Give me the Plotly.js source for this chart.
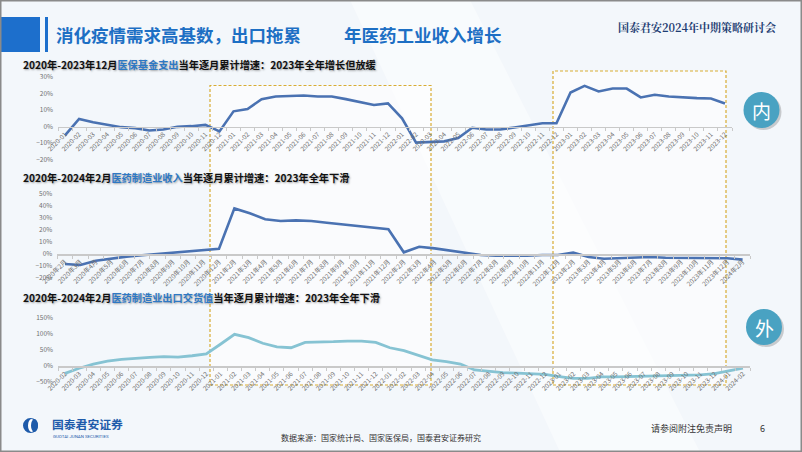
<!DOCTYPE html>
<html><head><meta charset="utf-8">
<script src="https://cdn.plot.ly/plotly-3.0.1.min.js"></script>
<style>html,body{margin:0;padding:0;background:#fff;overflow:hidden}#c{width:802px;height:452px}</style>
</head><body><div id="c"></div><script>
// ---- Chart 1: 医保基金支出 当年逐月累计增速 (%)
const months1 = ["2020-01","2020-02","2020-03","2020-04","2020-05","2020-06","2020-07","2020-08","2020-09","2020-10","2020-11","2020-12",
"2021-01","2021-02","2021-03","2021-04","2021-05","2021-06","2021-07","2021-08","2021-09","2021-10","2021-11","2021-12",
"2022-01","2022-02","2022-03","2022-04","2022-05","2022-06","2022-07","2022-08","2022-09","2022-10","2022-11","2022-12",
"2023-01","2023-02","2023-03","2023-04","2023-05","2023-06","2023-07","2023-08","2023-09","2023-10","2023-11","2023-12"];
const insuranceSpend = [-5.4,4.6,2.6,1.2,-0.4,-1.0,-2.4,-1.8,-0.2,0.2,1.0,-3.0,
9.2,10.6,16.6,18.2,18.6,18.8,18.2,18.2,16.6,14.6,13.0,14.0,
5.0,-9.8,-9.4,-9.0,-7.0,-0.8,-1.8,-1.8,-0.6,0.6,2.0,2.0,
20.6,24.6,21.2,23.0,23.0,17.6,19.2,18.2,17.6,17.2,17.0,14.0];

// ---- Chart 2: 医药制造业收入 当年逐月累计增速 (%)
const months2 = ["2020年2月","2020年3月","2020年4月","2020年5月","2020年6月","2020年7月","2020年8月","2020年9月","2020年10月","2020年11月","2020年12月",
"2021年2月","2021年3月","2021年4月","2021年5月","2021年6月","2021年7月","2021年8月","2021年9月","2021年10月","2021年11月","2021年12月",
"2022年2月","2022年3月","2022年4月","2022年5月","2022年6月","2022年7月","2022年8月","2022年9月","2022年10月","2022年11月","2022年12月",
"2023年2月","2023年3月","2023年4月","2023年5月","2023年6月","2023年7月","2023年8月","2023年9月","2023年10月","2023年11月","2023年12月",
"2024年2月"];
const mfgRevenue = [-8.3,-9.2,-5.6,-3.6,-2.2,-1.1,0.0,1.4,2.5,3.6,4.4,
38.0,34.0,29.0,27.5,28.0,27.5,26.0,24.7,23.3,22.0,20.6,
1.4,6.0,4.7,2.8,0.6,-0.8,-1.4,-1.7,-1.4,-0.8,-0.8,
1.1,-2.5,-3.9,-3.6,-2.8,-2.5,-3.1,-3.3,-3.6,-3.3,-3.6,
-4.7];

// ---- Chart 3: 医药制造业出口交货值 当年逐月累计增速 (%)
const months3 = ["2020-02","2020-03","2020-04","2020-05","2020-06","2020-07","2020-08","2020-09","2020-10","2020-11","2020-12",
"2021-01","2021-02","2021-03","2021-04","2021-05","2021-06","2021-07","2021-08","2021-09","2021-10","2021-11","2021-12",
"2022-01","2022-02","2022-03","2022-04","2022-05","2022-06","2022-07","2022-08","2022-09","2022-10","2022-11","2022-12",
"2023-01","2023-02","2023-03","2023-04","2023-05","2023-06","2023-07","2023-08","2023-09","2023-10","2023-11","2023-12",
"2024-01","2024-02"];
const exportValue = [-23,-7,6,15,21,25,27,29,28,32,37.5,
68,99,88.5,71,60,57,74,74,76,78,78,74,
57,48,33,19,13.5,6,-12.5,-17.7,-21,-22,-23,-26,
-33,-38.5,-38.5,-34,-34,-33,-32,-31,-30,-29,-28,-24,
-15.6,-7];

const W=802,H=452;
const px=x=>x/W, py=y=>1-y/H;
const CJK='"Noto Sans CJK SC","Noto Sans",sans-serif';
const tickFont={family:CJK,size:6.5,color:'#707070'};

function xax(n,x0,x1,zeroY){
  return {type:'category',domain:[px(x0),px(x1)],anchor:'free',position:py(zeroY),
    range:[-0.5,n-0.5],showline:true,linecolor:'#C9C9C9',linewidth:1.5,
    ticks:'outside',ticklen:3,tickcolor:'#C9C9C9',tickwidth:1,tickson:'boundaries',
    tickmode:'linear',tick0:0,dtick:1,tickangle:-45,tickfont:tickFont,
    showgrid:false,zeroline:false,fixedrange:true,automargin:false};
}
function yax(xa,r,dt,yTop,yBot){
  return {anchor:xa,domain:[py(yBot),py(yTop)],range:r,dtick:dt,tick0:0,ticksuffix:'%',
    showgrid:false,zeroline:false,showline:false,ticks:'',tickfont:tickFont,
    fixedrange:true,automargin:false,ticklabelstandoff:4};
}

const traces=[
 {x:months1,y:insuranceSpend,type:'scatter',mode:'lines',xaxis:'x',yaxis:'y',
  line:{color:'#4A72B2',width:2.6},hoverinfo:'skip'},
 {x:months2,y:mfgRevenue,type:'scatter',mode:'lines',xaxis:'x2',yaxis:'y2',
  line:{color:'#4A72B2',width:2.6},hoverinfo:'skip'},
 {x:months3,y:exportValue,type:'scatter',mode:'lines',xaxis:'x3',yaxis:'y3',
  line:{color:'#86C3D3',width:2.8},hoverinfo:'skip'}
];

const gold='rgba(214,168,40,0.95)';
const shapes=[
 // header blocks
 {type:'rect',xref:'paper',yref:'paper',x0:px(0),x1:px(40),y0:py(52),y1:py(17),fillcolor:'#1D6FCC',line:{width:0},layer:'below'},
 {type:'rect',xref:'paper',yref:'paper',x0:px(45),x1:px(48),y0:py(52),y1:py(17),fillcolor:'#1D6FCC',line:{width:0},layer:'below'},
 // faint light bands
 {type:'path',xref:'paper',yref:'paper',path:`M ${px(350)} ${py(0)} L ${px(470)} ${py(0)} L ${px(700)} ${py(452)} L ${px(560)} ${py(452)} Z`,fillcolor:'rgba(255,255,255,0.45)',line:{width:0},layer:'below'},
 // highlight boxes
 {type:'rect',xref:'paper',yref:'paper',x0:px(210),x1:px(431),y0:py(385),y1:py(85.5),fillcolor:'rgba(255,255,255,0.55)',line:{color:gold,width:1.2,dash:'3px,2px'},layer:'below'},
 {type:'rect',xref:'paper',yref:'paper',x0:px(553),x1:px(726),y0:py(385),y1:py(71),fillcolor:'rgba(255,255,255,0.55)',line:{color:gold,width:1.2,dash:'3px,2px'},layer:'below'},
 // badges (shadow + circle)
 {type:'circle',xref:'paper',yref:'paper',x0:px(745.5),x1:px(781.5),y0:py(130),y1:py(94),fillcolor:'rgba(0,0,0,0.18)',line:{width:0}},
 {type:'circle',xref:'paper',yref:'paper',x0:px(743.5),x1:px(779.5),y0:py(128),y1:py(92),fillcolor:'#49A2C2',line:{width:0}},
 {type:'circle',xref:'paper',yref:'paper',x0:px(748),x1:px(784),y0:py(347),y1:py(311),fillcolor:'rgba(0,0,0,0.18)',line:{width:0}},
 {type:'circle',xref:'paper',yref:'paper',x0:px(746),x1:px(782),y0:py(345),y1:py(309),fillcolor:'#49A2C2',line:{width:0}},
 // logo icon
 {type:'circle',xref:'paper',yref:'paper',x0:px(23),x1:px(38),y0:py(433),y1:py(418),fillcolor:'#1E5BAA',line:{width:0}},
 {type:'circle',xref:'paper',yref:'paper',x0:px(28),x1:px(35),y0:py(432),y1:py(419),fillcolor:'#FFFFFF',line:{width:0}},
 {type:'circle',xref:'paper',yref:'paper',x0:px(31),x1:px(38),y0:py(432),y1:py(419),fillcolor:'#1E5BAA',line:{width:0}},
 // slide border
 {type:'rect',xref:'paper',yref:'paper',x0:0,x1:1,y0:0,y1:1,line:{color:'#8A8A8A',width:3},fillcolor:'rgba(0,0,0,0)'}
];

const shadow='1px 1px 2px rgba(0,0,0,0.35)';
function sub(y,pre,hi,post){
  return {xref:'paper',yref:'paper',x:px(21),y:py(y),xanchor:'left',yanchor:'middle',showarrow:false,
    text:`<b>${pre}<span style="color:#2E78C4">${hi}</span>${post}</b>`,
    font:{family:CJK,size:10.2,color:'#111111',shadow:shadow}};
}
const annotations=[
 {xref:'paper',yref:'paper',x:px(54),y:py(35),xanchor:'left',yanchor:'middle',showarrow:false,
  text:'<b>消化疫情需求高基数，出口拖累</b>',font:{family:CJK,size:17.5,color:'#1D6FC4'}},
 {xref:'paper',yref:'paper',x:px(342),y:py(35),xanchor:'left',yanchor:'middle',showarrow:false,
  text:'<b>年医药工业收入增长</b>',font:{family:CJK,size:17.5,color:'#1D6FC4'}},
 {xref:'paper',yref:'paper',x:px(778),y:py(27),xanchor:'right',yanchor:'middle',showarrow:false,
  text:'<b>国泰君安2024年中期策略研讨会</b>',font:{family:'"Noto Serif CJK SC","Noto Sans CJK SC",serif',size:11,color:'#1F3E73'}},
 sub(64,'2020年-2023年12月','医保基金支出','当年逐月累计增速：2023年全年增长但放缓'),
 sub(177,'2020年-2024年2月','医药制造业收入','当年逐月累计增速：2023年全年下滑'),
 sub(297,'2020年-2024年2月','医药制造业出口交货值','当年逐月累计增速：2023年全年下滑'),
 {xref:'paper',yref:'paper',x:px(761.5),y:py(110),xanchor:'center',yanchor:'middle',showarrow:false,
  text:'内',font:{family:CJK,size:19,color:'#FFFFFF'}},
 {xref:'paper',yref:'paper',x:px(764),y:py(327),xanchor:'center',yanchor:'middle',showarrow:false,
  text:'外',font:{family:CJK,size:19,color:'#FFFFFF'}},
 {xref:'paper',yref:'paper',x:px(50),y:py(423.5),xanchor:'left',yanchor:'middle',showarrow:false,
  text:'<b>国泰君安证券</b>',font:{family:CJK,size:11.8,color:'#1E5BAA'}},
 {xref:'paper',yref:'paper',x:px(51),y:py(436.5),xanchor:'left',yanchor:'middle',showarrow:false,
  text:'GUOTAI JUNAN SECURITIES',font:{family:'Roboto,Arial',size:4.4,color:'#1E5BAA'}},
 {xref:'paper',yref:'paper',x:px(381),y:py(437),xanchor:'center',yanchor:'middle',showarrow:false,
  text:'数据来源：国家统计局、国家医保局，国泰君安证券研究',font:{family:CJK,size:8,color:'#333333'}},
 {xref:'paper',yref:'paper',x:px(691),y:py(428),xanchor:'center',yanchor:'middle',showarrow:false,
  text:'请参阅附注免责声明',font:{family:CJK,size:9,color:'#333333'}},
 {xref:'paper',yref:'paper',x:px(762),y:py(428),xanchor:'center',yanchor:'middle',showarrow:false,
  text:'6',font:{family:CJK,size:9,color:'#333333'}}
];

const layout={
 width:W,height:H,autosize:false,margin:{l:0,r:0,t:0,b:0,pad:0},
 paper_bgcolor:'#F3F7FB',plot_bgcolor:'rgba(0,0,0,0)',showlegend:false,
 font:{family:CJK},
 xaxis:xax(months1.length,58,732,126.5),
 yaxis:yax('x',[-20,30],10,77,159.5),
 xaxis2:xax(months2.length,57.3,750.3,254),
 yaxis2:yax('x2',[-20,50],10,194,278),
 xaxis3:xax(months3.length,58,750,366),
 yaxis3:yax('x3',[-50,150],50,318,382),
 shapes:shapes,annotations:annotations
};
Plotly.newPlot('c',traces,layout,{staticPlot:true,displayModeBar:false});
</script></body></html>
